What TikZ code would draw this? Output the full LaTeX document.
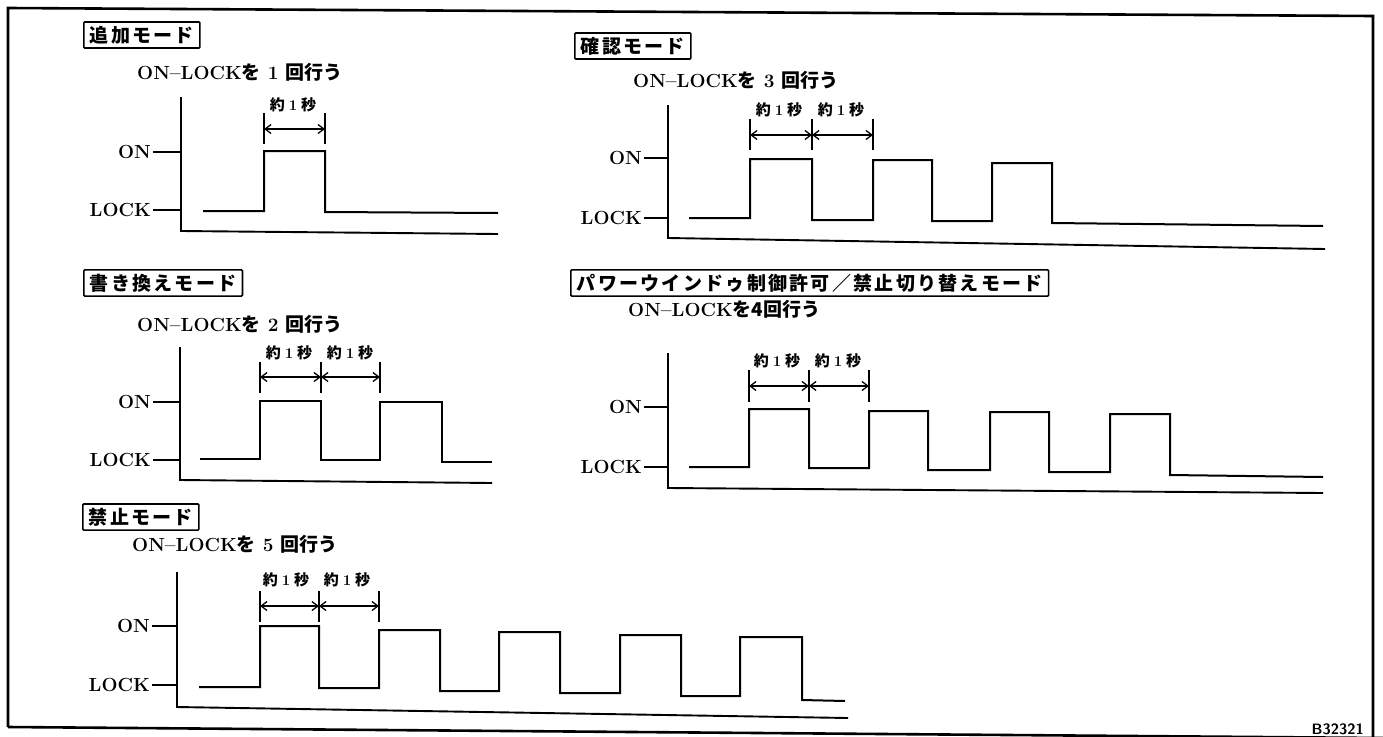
\documentclass[tikz,border=0pt]{standalone}
\usepackage{fontspec}
\newfontfamily\jpfont{Noto Sans CJK JP}
\newfontfamily\jpboxfont[LetterSpace=12]{Noto Sans CJK JP}
\usetikzlibrary{arrows.meta}
\begin{document}
\begin{tikzpicture}[x=1pt,y=-1pt,
  wave/.style={line width=2pt,line join=miter},
  axisline/.style={line width=1.9pt},
  modebox/.style={draw,line width=1.6pt,rounded corners=1pt,anchor=west,inner xsep=6pt,inner ysep=4pt,font=\jpboxfont\bfseries\fontsize{19}{19}\selectfont},
  titletext/.style={anchor=base west,inner sep=0pt,font=\bfseries\fontsize{19}{19}\selectfont},
  lvltext/.style={anchor=east,inner sep=1pt,font=\bfseries\fontsize{19}{19}\selectfont},
  durtext/.style={inner sep=0pt,font=\jpfont\bfseries\fontsize{15}{15}\selectfont},
  dimline/.style={line width=1.3pt,{Straight Barb[length=6pt,width=9pt]}-{Straight Barb[length=6pt,width=9pt]}}]
\useasboundingbox (0,0) rectangle (1383,736);
\draw[line width=2.6pt] (8,727) -- (8,8) -- (1373,16) -- (1373,740);
\draw[line width=2.6pt] (8,727) -- (1383,738);
\node[anchor=base east,inner sep=0pt,font=\sffamily\bfseries\fontsize{15}{15}\selectfont] (figno) at (1364,734) {B32321};
% 追加モード
\node[modebox] (addbox) at (83,35) {追加モード};
\node[titletext] (addtitle) at (137,79) {ON--LOCK{\jpfont を}\hspace{7pt}1\hspace{7pt}{\jpfont 回行う}};
\draw[axisline] (181,97) -- (181,231) -- (498,234);
\draw[axisline] (153,152) -- (181,152);
\draw[axisline] (153,210) -- (181,210);
\node[lvltext] (addon) at (152,152) {ON};
\node[lvltext] (addlock) at (152,210) {LOCK};
\draw[wave] (203,211) -- (264,211) -- (264,151) -- (325,151) -- (325,212) -- (498,213);
\draw[line width=1.3pt] (264,113) -- (264,144) (325,113) -- (325,144);
\coordinate (add0) at (264,129);
\coordinate (add1) at (325,129);
\draw[dimline] (add0) -- (add1);
\node[durtext] (adddur) at (293,105) {約\hspace{4pt}{\rmfamily 1}\hspace{4pt}秒};
% 書き換えモード
\node[modebox] (rwbox) at (83,283) {書き換えモード};
\node[titletext] (rwtitle) at (137,331) {ON--LOCK{\jpfont を}\hspace{7pt}2\hspace{7pt}{\jpfont 回行う}};
\draw[axisline] (180,347) -- (180,480) -- (492,483);
\draw[axisline] (153,402) -- (180,402);
\draw[axisline] (153,460) -- (180,460);
\node[lvltext] (rwon) at (152,402) {ON};
\node[lvltext] (rwlock) at (152,460) {LOCK};
\draw[wave] (200,459) -- (260,459) -- (260,401) -- (321,401) -- (321,460) -- (380,460) -- (380,402) -- (442,402) -- (442,462) -- (492,462);
\draw[line width=1.3pt] (260,362) -- (260,393) (321,362) -- (321,393) (380,362) -- (380,393);
\coordinate (rw0) at (260,377);
\coordinate (rw1) at (321,377);
\coordinate (rw2) at (380,377);
\draw[dimline] (rw0) -- (rw1);
\draw[dimline] (rw1) -- (rw2);
\node[durtext] (rwdur1) at (289,353) {約\hspace{4pt}{\rmfamily 1}\hspace{4pt}秒};
\node[durtext] (rwdur2) at (350,353) {約\hspace{4pt}{\rmfamily 1}\hspace{4pt}秒};
% 確認モード
\node[modebox] (chkbox) at (574,46) {確認モード};
\node[titletext] (chktitle) at (633,87) {ON--LOCK{\jpfont を}\hspace{7pt}3\hspace{7pt}{\jpfont 回行う}};
\draw[axisline] (668,105) -- (668,238) -- (1325,249);
\draw[axisline] (644,158) -- (668,158);
\draw[axisline] (644,218) -- (668,218);
\node[lvltext] (chkon) at (643,158) {ON};
\node[lvltext] (chklock) at (643,218) {LOCK};
\draw[wave] (689,218) -- (750,218) -- (750,159) -- (812,159) -- (812,220) -- (873,220) -- (873,160) -- (932,160) -- (932,221) -- (992,221) -- (992,163) -- (1052,163) -- (1052,223) -- (1323,226);
\draw[line width=1.3pt] (750,119) -- (750,150) (812,119) -- (812,150) (873,119) -- (873,150);
\coordinate (chk0) at (750,135);
\coordinate (chk1) at (812,135);
\coordinate (chk2) at (873,135);
\draw[dimline] (chk0) -- (chk1);
\draw[dimline] (chk1) -- (chk2);
\node[durtext] (chkdur1) at (779,110) {約\hspace{4pt}{\rmfamily 1}\hspace{4pt}秒};
\node[durtext] (chkdur2) at (841,110) {約\hspace{4pt}{\rmfamily 1}\hspace{4pt}秒};
% パワーウインドゥ制御許可/禁止切り替えモード
\node[modebox] (pwbox) at (570,283) {パワーウインドゥ制御許可／禁止切り替えモード};
\node[titletext] (pwtitle) at (628,316) {ON--LOCK{\jpfont を4回行う}};
\draw[axisline] (668,353) -- (668,488) -- (1323,493);
\draw[axisline] (644,407) -- (668,407);
\draw[axisline] (644,467) -- (668,467);
\node[lvltext] (pwon) at (643,407) {ON};
\node[lvltext] (pwlock) at (643,467) {LOCK};
\draw[wave] (689,467) -- (749,467) -- (749,409) -- (809,409) -- (809,468) -- (869,468) -- (869,411) -- (928,411) -- (928,470) -- (990,470) -- (990,412) -- (1049,412) -- (1049,472) -- (1110,472) -- (1110,414) -- (1170,414) -- (1170,475) -- (1323,477);
\draw[line width=1.3pt] (749,370) -- (749,402) (809,370) -- (809,402) (869,370) -- (869,402);
\coordinate (pw0) at (749,386);
\coordinate (pw1) at (809,386);
\coordinate (pw2) at (869,386);
\draw[dimline] (pw0) -- (pw1);
\draw[dimline] (pw1) -- (pw2);
\node[durtext] (pwdur1) at (777,361) {約\hspace{4pt}{\rmfamily 1}\hspace{4pt}秒};
\node[durtext] (pwdur2) at (838,361) {約\hspace{4pt}{\rmfamily 1}\hspace{4pt}秒};
% 禁止モード
\node[modebox] (inhbox) at (82,517) {禁止モード};
\node[titletext] (inhtitle) at (132,551) {ON--LOCK{\jpfont を}\hspace{7pt}5\hspace{7pt}{\jpfont 回行う}};
\draw[axisline] (177,572) -- (177,707) -- (848,718);
\draw[axisline] (152,626) -- (177,626);
\draw[axisline] (152,685) -- (177,685);
\node[lvltext] (inhon) at (151,626) {ON};
\node[lvltext] (inhlock) at (151,685) {LOCK};
\draw[wave] (199,687) -- (260,687) -- (260,626) -- (319,626) -- (319,688) -- (379,688) -- (379,630) -- (440,630) -- (440,691) -- (499,691) -- (499,632) -- (560,632) -- (560,693) -- (620,693) -- (620,635) -- (681,635) -- (681,696) -- (740,696) -- (740,637) -- (802,637) -- (802,700) -- (845,701);
\draw[line width=1.3pt] (260,591) -- (260,622) (319,591) -- (319,622) (379,591) -- (379,622);
\coordinate (inh0) at (260,606);
\coordinate (inh1) at (319,606);
\coordinate (inh2) at (379,606);
\draw[dimline] (inh0) -- (inh1);
\draw[dimline] (inh1) -- (inh2);
\node[durtext] (inhdur1) at (286,580) {約\hspace{4pt}{\rmfamily 1}\hspace{4pt}秒};
\node[durtext] (inhdur2) at (347,580) {約\hspace{4pt}{\rmfamily 1}\hspace{4pt}秒};
\end{tikzpicture}
\end{document}
